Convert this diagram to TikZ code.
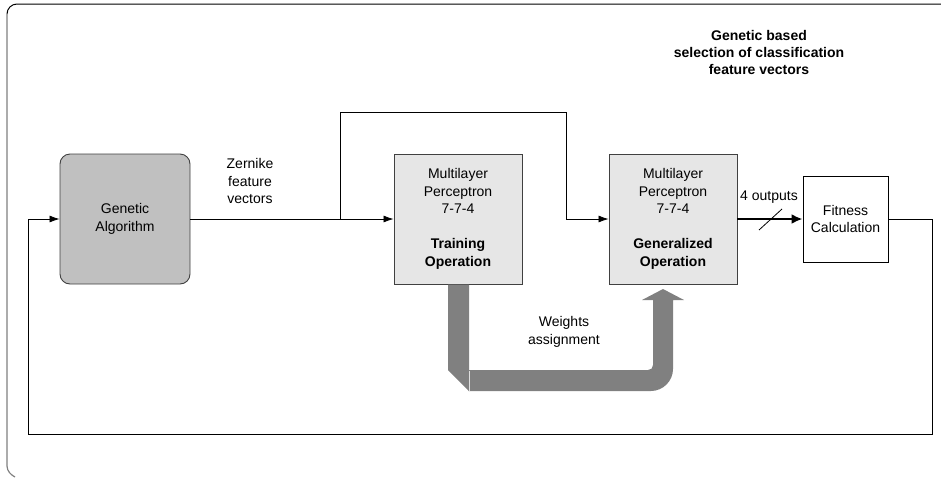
\documentclass[tikz,border=0pt]{standalone}
\usepackage{fontspec}
\setmainfont{Liberation Sans}
\usetikzlibrary{arrows.meta,calc}
\definecolor{gafill}{HTML}{C0C0C0}
\definecolor{mlpfill}{HTML}{E6E6E6}
\definecolor{boxline}{HTML}{404040}
\definecolor{wtgray}{HTML}{808080}
\tikzset{
  base/.style={font=\fontsize{14}{17.5}\selectfont, align=center},
  gabox/.style={base, draw=boxline, fill=gafill, rounded corners=10pt, line width=0.9pt, minimum width=130pt, minimum height=130pt, inner sep=0pt},
  mlpbox/.style={base, draw=boxline, fill=mlpfill, line width=0.9pt, minimum width=128pt, minimum height=130pt, inner sep=0pt},
  fitbox/.style={base, draw=black, fill=white, line width=0.9pt, minimum width=85pt, minimum height=86pt, inner sep=0pt},
  lbl/.style={base},
  conn/.style={draw=black, line width=0.8pt},
  arr/.style={conn, -{Latex[length=10pt,width=7pt]}},
  thickarr/.style={draw=black, line width=2.5pt, -{Latex[length=11pt,width=10pt]}},
}
\begin{document}
\begin{tikzpicture}[x=1pt,y=-1pt]
\useasboundingbox (0,0) rectangle (941,477);
% outer frame (cropped)
\draw[black, line width=1pt] (7,14) .. controls (7,8.5) and (11.5,4) .. (17,4) -- (941,4);
\draw[wtgray, line width=1.2pt] (7,14) -- (7,466) .. controls (7,471) and (11,475) .. (15,477);

% nodes
\node[gabox] (ga) at (125,219) {Genetic\\Algorithm};
\node[mlpbox] (train) at (458,219) {Multilayer\\Perceptron\\7-7-4\\[17.5pt]\textbf{Training}\\\textbf{Operation}};
\node[mlpbox] (gen) at (673,219) {Multilayer\\Perceptron\\7-7-4\\[17.5pt]\textbf{Generalized}\\\textbf{Operation}};
\node[fitbox] (fit) at (845.5,219) {Fitness\\Calculation};

\node[lbl] (zern) at (250,181) {Zernike\\feature\\vectors};
\node[lbl] (outs) at (769,197) {4 outputs};
\node[lbl] (wts) at (564,332) {Weights\\assignment};
\node[base, font=\bfseries\fontsize{14}{17}\selectfont] (title) at (759,52) {Genetic based\\selection of classification\\feature vectors};

% weights assignment arrow
\fill[wtgray] (448,284.5) -- (469,284.5) -- (469,391) -- (448,370) -- cycle;
\fill[wtgray] (468.5,370) -- (648,370) .. controls (651,370) and (653,368) .. (653,365) -- (653,300)
  -- (642,300) -- (663,289) -- (684,300) -- (673,300) -- (673,369)
  .. controls (673,381) and (663,391) .. (651,391) -- (468.5,391) -- cycle;
\draw[white!75!wtgray, line width=0.4pt] (469,370.5) -- (469,390.5);

% connectors
\coordinate (split) at (340,219);
\coordinate (bytop) at (340,112);
\coordinate (bydown) at (566,112);
\coordinate (bymid) at (566,219);
\path[arr] (ga.east) -- (train.west);
\path[conn] (split) -- (bytop) -- (bydown) -- (bymid);
\path[arr] (bymid) -- (gen.west);
\path[thickarr] (gen.east) -- (fit.west);
\coordinate (sl1) at (759,230);
\coordinate (sl2) at (782,209);
\draw[conn] (sl1) -- (sl2);
\coordinate (fb1) at (932,219);
\coordinate (fb2) at (932,434);
\coordinate (fb3) at (28,434);
\coordinate (fb4) at (28,219);
\path[conn] (fit.east) -- (fb1) -- (fb2) -- (fb3) -- (fb4);
\path[arr] (fb4) -- (ga.west);
\end{tikzpicture}
\end{document}
